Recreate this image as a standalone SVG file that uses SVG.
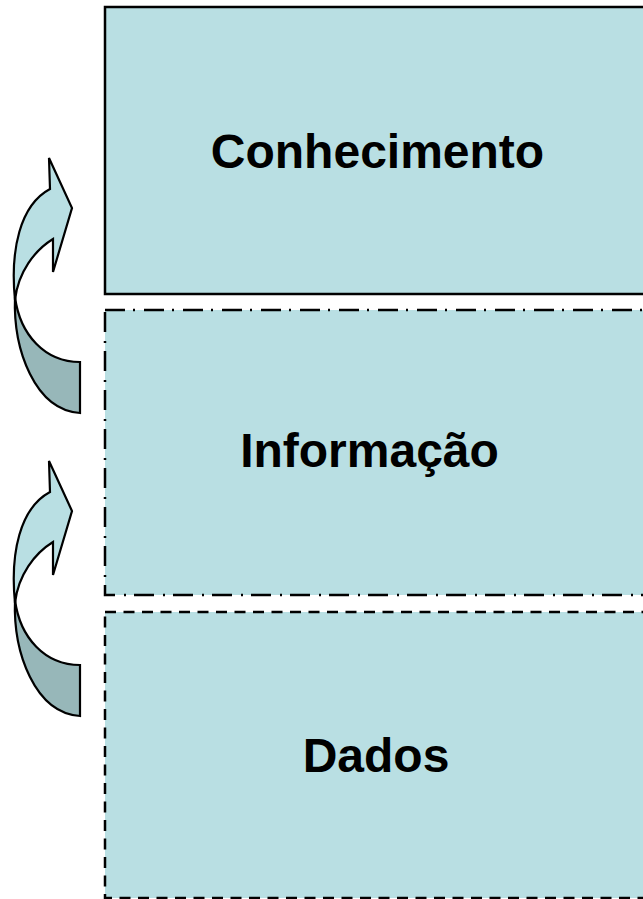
<svg xmlns="http://www.w3.org/2000/svg" width="643" height="899" viewBox="0 0 643 899">
<defs>
<style>
.box{fill:#B9DFE3;stroke:#000;stroke-width:2.5}
.dashdot{stroke-dasharray:20 8 2 9}
.dash{stroke-dasharray:11 7.5}
.lbl{font-family:"Liberation Sans",Arial,sans-serif;font-weight:bold;font-size:48px;fill:#000;text-anchor:middle}
.front{fill:#B9DFE3;stroke:#000;stroke-width:2.2;stroke-linejoin:miter}
.back{fill:#97B7B9;stroke:#000;stroke-width:2.2;stroke-linejoin:miter}
</style>
<g id="curved-arrow">
<path class="back" d="M15,297 C13,350 35,410 80,413 L80,362 C45,362 20,335 15,297 Z"/>
<path class="front" d="M15,300 C10,250 20,205 50,189 L49,158 L72,208 L53,272 L53,239 C35,250 18,272 15,300 Z"/>
</g>
</defs>
<g id="node-conhecimento">
<rect class="box" x="105" y="7" width="545" height="287"/>
<text class="lbl" x="377.5" y="168">Conhecimento</text>
</g>
<g id="node-informacao">
<rect class="box dashdot" x="105" y="310" width="545" height="285"/>
<text class="lbl" x="369.5" y="467">Informação</text>
</g>
<g id="node-dados">
<rect class="box dash" x="105" y="612" width="545" height="286"/>
<text class="lbl" x="376" y="772">Dados</text>
</g>
<g id="connectors">
<use href="#curved-arrow"/>
<use href="#curved-arrow" transform="translate(0,303)"/>
</g>
</svg>
